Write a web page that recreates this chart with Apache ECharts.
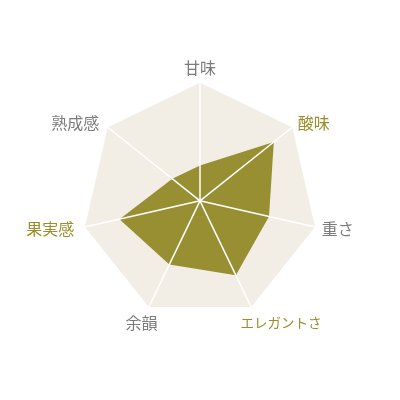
<!DOCTYPE html>
<html>
<head>
<meta charset="utf-8">
<script src="https://cdn.jsdelivr.net/npm/echarts@6/dist/echarts.min.js"></script>
<style>html,body{margin:0;padding:0;background:#fff;}#c{width:400px;height:400px;}</style>
</head>
<body>
<div id="c"></div>
<script>
// listed clockwise starting at the top
const categories = ['甘味', '酸味', '重さ', 'エレガントさ', '余韻', '果実感', '熟成感'];
const highlighted = [false, true, false, true, false, true, false];
const values = [3, 8, 6, 7, 6, 7, 3];
const maxValue = 10;

const gray = '#7b7b7b';
const olive = '#9a8e2c';

// per-label text styling (placement tweaks only)
const nameStyles = [
  {},
  {},
  { padding: [6, 0, 0, 0] },
  { fontSize: 13.5, align: 'center', padding: [0, 0, 0, 44] },
  { align: 'center', padding: [0, 0, 0, 0] },
  { padding: [6, 4, 0, 0] },
  { padding: [0, 3, 0, 0] }
];
const nameGaps = [7, 7, 7, 18, 17, 7, 7];

// ECharts radar runs counter-clockwise: keep first, reverse the rest
const order = [0].concat(categories.map((_, i) => i).slice(1).reverse());

const indicator = order.map(i => ({
  name: categories[i], max: maxValue, min: 0,
  color: highlighted[i] ? olive : gray,
  nameGap: nameGaps[i],
  nameTextStyle: Object.assign({ color: highlighted[i] ? olive : gray, fontSize: 16, fontFamily: 'Noto Sans CJK JP' }, nameStyles[i])
}));
const indicatorPlain = order.map(() => ({ name: '', max: maxValue, min: 0 }));
const seriesValues = order.map(i => values[i]);

const chart = echarts.init(document.getElementById('c'), null, { renderer: 'canvas' });
chart.setOption({
  animation: false,
  radar: [
    {
      center: ['50%', '50.2%'],
      radius: 118,
      startAngle: 90,
      shape: 'polygon',
      splitNumber: 1,
      indicator: indicator,
      nameGap: 7,
      axisName: { fontSize: 16, fontFamily: 'Noto Sans CJK JP' },
      splitArea: { areaStyle: { color: ['#f2eee6'] } },
      splitLine: { show: false },
      axisLine: { show: false },
      axisTick: { show: false },
      axisLabel: { show: false },
      z: 1
    },
    {
      center: ['50%', '50.2%'],
      radius: 118,
      startAngle: 90,
      shape: 'polygon',
      splitNumber: 1,
      indicator: indicatorPlain,
      axisName: { show: false },
      splitArea: { show: false },
      splitLine: { show: false },
      axisLine: { lineStyle: { color: '#ffffff', width: 1.5 } },
      axisTick: { show: false },
      axisLabel: { show: false },
      z: 5
    }
  ],
  series: [{
    type: 'radar',
    radarIndex: 0,
    z: 3,
    symbol: 'none',
    lineStyle: { width: 0 },
    areaStyle: { color: '#988f33', opacity: 1 },
    data: [{ value: seriesValues }]
  }]
});
</script>
</body>
</html>
